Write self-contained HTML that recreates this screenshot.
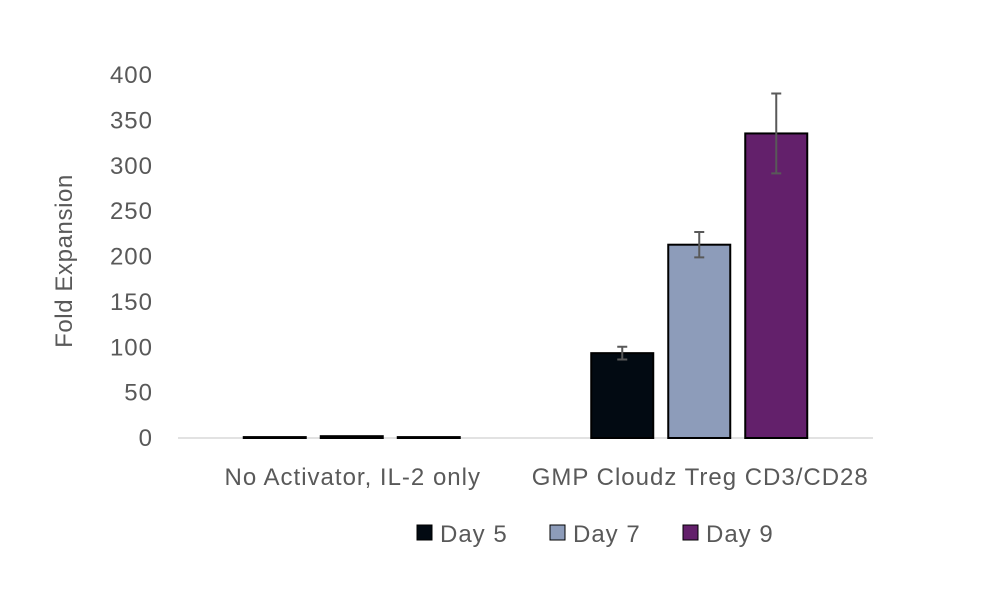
<!DOCTYPE html>
<html><head><meta charset="utf-8"><style>
body{margin:0;background:#fff;}
svg text{font-family:"Liberation Sans",sans-serif;fill:#595959;font-size:24px;letter-spacing:1px;}
</style></head><body>
<svg id="chart" width="1000" height="590">
<text x="72" y="261" text-anchor="middle" transform="rotate(-90 72 261)" style="letter-spacing:0.6px">Fold Expansion</text>
<g id="grid"></g><g id="bars"></g>
<g>
<rect x="417" y="525" width="15" height="15" fill="#020a12" stroke="#000"/>
<text x="440" y="542">Day 5</text>
<rect x="550" y="525" width="15" height="15" fill="#8d9cba" stroke="#000"/>
<text x="573" y="542">Day 7</text>
<rect x="683" y="525" width="15" height="15" fill="#63206b" stroke="#000"/>
<text x="706" y="542">Day 9</text>
</g>
</svg>
<script>
const categories=["No Activator, IL-2 only","GMP Cloudz Treg CD3/CD28"];
const seriesNames=["Day 5","Day 7","Day 9"];
const day5=[1,93.5];
const day7=[2,213];
const day9=[1,335.6];
const err5=[0,7];
const err7=[0,14];
const err9=[0,44];
const yTicks=[0,50,100,150,200,250,300,350,400];
const colors=["#020a12","#8d9cba","#63206b"];
const NS="http://www.w3.org/2000/svg";
const svg=document.getElementById('chart');
const g=document.getElementById('bars'),gr=document.getElementById('grid');
const x0=178,x1=873,yb=438,yt=75,ymax=400;
const y=v=>yb-(v/ymax)*(yb-yt);
const catW=(x1-x0)/categories.length;
const cx=i=>x0+catW*(i+0.5);
function mk(t,a,p){const e=document.createElementNS(NS,t);for(const k in a)e.setAttribute(k,a[k]);(p||svg).appendChild(e);return e;}
yTicks.forEach(t=>{
 const tx=mk('text',{x:153,y:y(t)+8,'text-anchor':'end'},gr);
 tx.textContent=t;
 
 
});
const ax=mk('line',{x1:x0,x2:x1,y1:yb,y2:yb,stroke:'#d9d9d9','stroke-width':1.5},gr);


categories.forEach((c,i)=>{
 const tx=mk('text',{x:cx(i)+1,y:485,'text-anchor':'middle'},gr);
 tx.textContent=c;
 
 
});
const series=[day5,day7,day9],errs=[err5,err7,err9];
const bw=62,step=77;
series.forEach((s,si)=>{
 s.forEach((v,i)=>{
  const bx=cx(i)+(si-1)*step-bw/2;
  const r=mk('rect',{x:bx,y:y(v),width:bw,height:yb-y(v),fill:colors[si],stroke:'#000','stroke-width':2},g);
  
  
  const e=errs[si][i];
  if(e>0){
   const m=bx+bw/2;
   const eb=mk('path',{d:`M${m-5},${y(v+e)}H${m+5}M${m},${y(v+e)}V${y(v-e)}M${m-5},${y(v-e)}H${m+5}`,stroke:'#595959','stroke-width':2,fill:'none'},g);
   
   
  }
 });
});
</script>
</body></html>
